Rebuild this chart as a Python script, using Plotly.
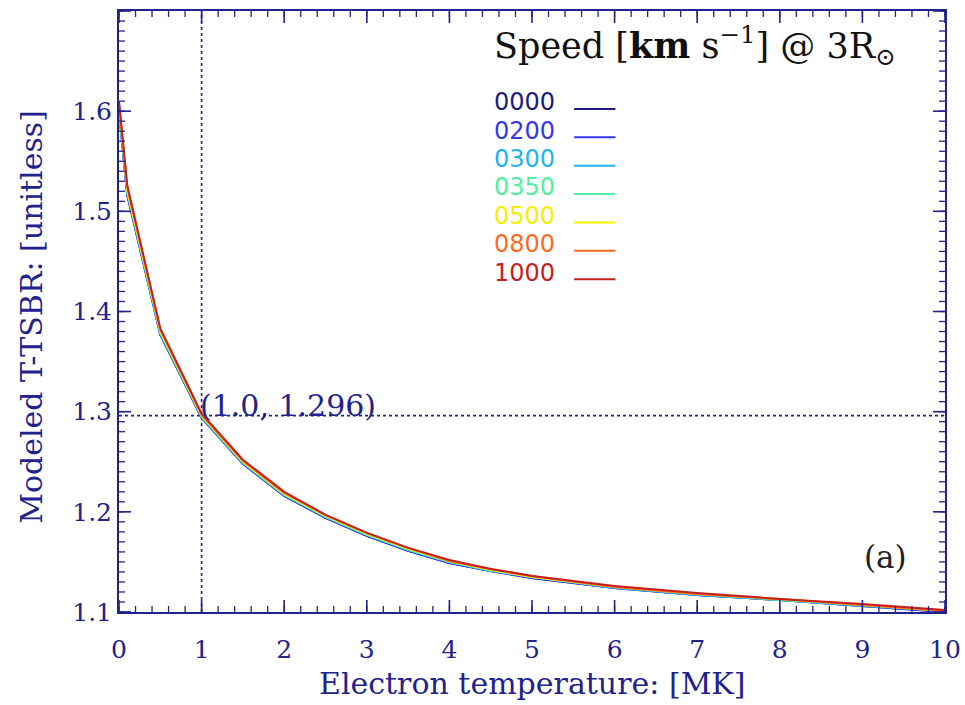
import plotly.graph_objects as go

# ---- data ----
temperature_mk = [0.0, 0.1, 0.5, 1.0, 1.5, 2.0, 2.5, 3.0, 3.5, 4.0, 4.5, 5.0, 6.0, 7.0, 8.0, 9.0, 10.0]

speed_labels = ["0000", "0200", "0300", "0350", "0500", "0800", "1000"]

tsbr_0000 = [1.600, 1.516, 1.377, 1.294, 1.248, 1.216, 1.194, 1.176, 1.161, 1.149, 1.141, 1.134, 1.124, 1.117, 1.112, 1.106, 1.100]
tsbr_0200 = [1.601, 1.517, 1.377, 1.294, 1.248, 1.216, 1.194, 1.176, 1.161, 1.149, 1.141, 1.134, 1.124, 1.117, 1.112, 1.106, 1.100]
tsbr_0300 = [1.602, 1.518, 1.378, 1.295, 1.249, 1.217, 1.195, 1.177, 1.162, 1.150, 1.141, 1.135, 1.124, 1.117, 1.112, 1.106, 1.101]
tsbr_0350 = [1.603, 1.519, 1.379, 1.295, 1.249, 1.217, 1.195, 1.177, 1.162, 1.150, 1.142, 1.135, 1.125, 1.118, 1.112, 1.107, 1.101]
tsbr_0500 = [1.605, 1.521, 1.380, 1.296, 1.250, 1.218, 1.196, 1.178, 1.163, 1.151, 1.142, 1.135, 1.125, 1.118, 1.113, 1.107, 1.101]
tsbr_0800 = [1.608, 1.524, 1.382, 1.297, 1.251, 1.219, 1.197, 1.179, 1.164, 1.151, 1.143, 1.136, 1.125, 1.118, 1.113, 1.107, 1.101]
tsbr_1000 = [1.610, 1.526, 1.383, 1.298, 1.252, 1.220, 1.197, 1.179, 1.164, 1.152, 1.143, 1.136, 1.126, 1.119, 1.113, 1.108, 1.102]

series_values = [tsbr_0000, tsbr_0200, tsbr_0300, tsbr_0350, tsbr_0500, tsbr_0800, tsbr_1000]
series_colors = ["#1c1c80", "#3535f5", "#1fb4f5", "#4ff0a0", "#f5f000", "#ff6a1f", "#c81e1e"]

marker_x = 1.0
marker_y = 1.296

x_tick_vals = [0, 1, 2, 3, 4, 5, 6, 7, 8, 9, 10]
y_tick_vals = [1.1, 1.2, 1.3, 1.4, 1.5, 1.6, 1.7]
y_tick_text = ["1.1", "1.2", "1.3", "1.4", "1.5", "1.6", "1.7"]
x_minor_step = 0.2
y_minor_step = 0.01

AXIS = "#22228c"
SERIF = "DejaVu Serif"
CLEAR = "rgba(0,0,0,0)"

fig = go.Figure()

# crosshair lines
fig.add_trace(go.Scatter(x=[marker_x, marker_x], y=[1.1, 1.7], mode="lines",
                         line=dict(color=AXIS, width=1.6, dash="dot"), showlegend=False, hoverinfo="skip"))
fig.add_trace(go.Scatter(x=[0, 10], y=[marker_y, marker_y], mode="lines",
                         line=dict(color=AXIS, width=1.6, dash="dot"), showlegend=False, hoverinfo="skip"))

for lab, vals, col in zip(speed_labels, series_values, series_colors):
    fig.add_trace(go.Scatter(x=temperature_mk, y=vals, mode="lines", name=lab,
                             line=dict(color=col, width=2), showlegend=False))

# empty trace so the label-only overlay axes exist
fig.add_trace(go.Scatter(x=[], y=[], xaxis="x2", yaxis="y2", showlegend=False, hoverinfo="skip"))

box_axis = dict(
    showline=True, linecolor=AXIS, linewidth=2, mirror=True, ticks="",
    showgrid=False, zeroline=False, automargin=False, showticklabels=False,
)
label_axis = dict(
    showline=False, showgrid=False, zeroline=False, automargin=False,
    ticks="outside", tickcolor=CLEAR, tickwidth=1,
    tickfont=dict(family=SERIF, size=25, color=AXIS),
)

fig.update_layout(
    xaxis=dict(range=[0, 10], **box_axis),
    yaxis=dict(range=[1.1, 1.7], **box_axis),
    xaxis2=dict(range=[0, 10], overlaying="x", side="bottom", anchor="y2",
                tickmode="array", tickvals=x_tick_vals, ticklen=15, **label_axis),
    yaxis2=dict(range=[1.1, 1.7], overlaying="y", side="left", anchor="x2",
                tickmode="array", tickvals=y_tick_vals, ticktext=y_tick_text, ticklen=1, **label_axis),
)

# ---- inward tick marks on all four edges (axis decoration) ----
shapes = []


def x_tick(v, length, width):
    for anchor, sign in ((0, 1), (1, -1)):
        shapes.append(dict(type="line", xref="x", yref="paper", ysizemode="pixel", yanchor=anchor,
                           x0=v, x1=v, y0=0, y1=sign * length, layer="above",
                           line=dict(color=AXIS, width=width)))


def y_tick(v, length, width):
    for anchor, sign in ((0, 1), (1, -1)):
        shapes.append(dict(type="line", xref="paper", yref="y", xsizemode="pixel", xanchor=anchor,
                           x0=0, x1=sign * length, y0=v, y1=v, layer="above",
                           line=dict(color=AXIS, width=width)))


n_x_minor = int(round((x_tick_vals[-1] - x_tick_vals[0]) / x_minor_step))
for i in range(n_x_minor + 1):
    x_tick(x_tick_vals[0] + i * x_minor_step, 6, 1.3)
for v in x_tick_vals:
    x_tick(v, 12, 1.6)

n_y_minor = int(round((y_tick_vals[-1] - y_tick_vals[0]) / y_minor_step))
for i in range(n_y_minor + 1):
    y_tick(y_tick_vals[0] + i * y_minor_step, 6, 1.3)
for v in y_tick_vals:
    y_tick(v, 12, 1.6)

annotations = [
    dict(text="Modeled T-TSBR: [unitless]", xref="paper", yref="paper", x=-0.106, y=0.492,
         xanchor="center", yanchor="middle",
         textangle=-90, showarrow=False, font=dict(family=SERIF, size=30, color=AXIS)),
    dict(text="Electron temperature: [MK]", xref="paper", yref="paper", x=0.5, y=-0.119,
         xanchor="center", yanchor="middle",
         showarrow=False, font=dict(family=SERIF, size=30, color=AXIS)),
    dict(text="(1.0, 1.296)", x=marker_x, y=marker_y, xref="x", yref="y", xanchor="left", yanchor="bottom",
         showarrow=False, font=dict(family=SERIF, size=30, color=AXIS), yshift=-9, xshift=-4),
    dict(text="(a)", xref="paper", yref="paper", x=0.956, y=0.058, showarrow=False,
         font=dict(family=SERIF, size=31, color="#222222")),
    dict(text="Speed [<b>km</b> s<sup>−1</sup>] @ 3R<sub>⊙</sub>", xref="paper", yref="paper",
         x=0.451, y=0.942, xanchor="left", yanchor="middle", showarrow=False,
         font=dict(family=SERIF, size=35, color="#111111")),
]

y0 = 0.848
dy = 0.0472
for i, (lab, col) in enumerate(zip(speed_labels, series_colors)):
    yy = y0 - i * dy
    annotations.append(dict(text=lab, xref="paper", yref="paper", x=0.451, y=yy, xanchor="left",
                            yanchor="middle", showarrow=False, font=dict(family="DejaVu Sans", size=24, color=col)))
    shapes.append(dict(type="line", xref="paper", yref="paper", x0=0.551, x1=0.601,
                       y0=yy - 0.011, y1=yy - 0.011, line=dict(color=col, width=2)))

fig.update_layout(
    width=965, height=705,
    margin=dict(l=119, r=20, t=11, b=93),
    paper_bgcolor="white", plot_bgcolor="white",
    annotations=annotations, shapes=shapes,
    showlegend=False,
)

fig.write_html("out.html", config={"displayModeBar": False},
               post_script="document.body.style.margin='0';")
